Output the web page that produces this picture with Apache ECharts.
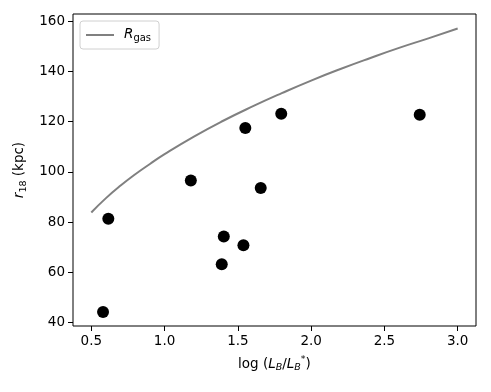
<!DOCTYPE html>
<html>
<head>
<meta charset="utf-8">
<script src="https://cdn.jsdelivr.net/npm/echarts@6/dist/echarts.min.js"></script>
<style>
  html, body { margin: 0; padding: 0; background: #fff; }
  #main { width: 491px; height: 392px; }
</style>
</head>
<body>
<div id="main"></div>
<script>
// galaxies: log(L_B/L_B*) vs r_18 (kpc)
var logL = [0.58, 0.616, 1.179, 1.390, 1.404, 1.538, 1.551, 1.656, 1.796, 2.741];
var r18  = [44.2, 81.3, 96.5, 63.2, 74.2, 70.7, 117.4, 93.5, 123.1, 122.7];

// R_gas curve
var gasX = [0.5, 0.6, 0.7, 0.8, 0.9, 1.0, 1.2, 1.4, 1.6, 1.8, 2.0, 2.2, 2.4, 2.6, 2.8, 3.0];
var gasY = [83.8, 89.5, 94.5, 99.0, 103.1, 107.0, 114.0, 120.3, 126.0, 131.3, 136.3, 140.9, 145.2, 149.3, 153.1, 157.0];

var xTicks = [0.5, 1.0, 1.5, 2.0, 2.5, 3.0];
var yTicks = [40, 60, 80, 100, 120, 140, 160];

var pts = logL.map(function (x, i) { return [x, r18[i]]; });
var gas = gasX.map(function (x, i) { return [x, gasY[i]]; });

var font = 'DejaVu Sans';
var myChart = echarts.init(document.getElementById('main'));

var option = {
    backgroundColor: '#fff',
    animation: false,
    grid: {
        left: 73, right: 15, top: 14, bottom: 66,
        show: true, borderColor: '#000', borderWidth: 1
    },
    legend: {
        data: ['gas'],
        left: 80, top: 21,
        padding: [6, 8, 6, 5],
        itemWidth: 28, itemHeight: 2,
        borderColor: '#d0d0d0', borderWidth: 1, borderRadius: 3,
        formatter: function () { return '{i|R}{s|gas}'; },
        textStyle: {
            padding: [0, 0, 0, 5],
            rich: {
                i: { fontFamily: font, fontStyle: 'italic', fontSize: 13.5, color: '#000', lineHeight: 16, verticalAlign: 'top' },
                s: { fontFamily: font, fontSize: 10, color: '#000', lineHeight: 16, verticalAlign: 'bottom' }
            }
        }
    },
    xAxis: {
        type: 'value',
        min: 0.375, max: 3.125,
        name: '{n|log (}{i|L}{s|B}{n|/}{i|L}{s|B}{u|*}{n|)}',
        nameLocation: 'middle',
        nameGap: 29,
        nameTextStyle: {
            rich: {
                n: { fontFamily: font, fontSize: 13.5, color: '#000', lineHeight: 18, verticalAlign: 'middle' },
                i: { fontFamily: font, fontStyle: 'italic', fontSize: 13.5, color: '#000', lineHeight: 18, verticalAlign: 'middle' },
                s: { fontFamily: font, fontStyle: 'italic', fontSize: 9.5, color: '#000', lineHeight: 14, verticalAlign: 'bottom' },
                u: { fontFamily: font, fontSize: 9.5, color: '#000', lineHeight: 18, verticalAlign: 'top' }
            }
        },
        splitLine: { show: false },
        axisLine: { show: false },
        axisTick: { show: true, length: 5, lineStyle: { color: '#000', width: 1 }, customValues: xTicks },
        axisLabel: {
            customValues: xTicks,
            fontFamily: font, fontSize: 13.5, color: '#000', margin: 8,
            formatter: function (v) { return v.toFixed(1); }
        }
    },
    yAxis: {
        type: 'value',
        min: 38.6, max: 162.8,
        name: '{i|r}{s|18}{n| (kpc)}',
        nameLocation: 'middle',
        nameGap: 39,
        nameRotate: 90,
        nameTextStyle: {
            rich: {
                n: { fontFamily: font, fontSize: 13.5, color: '#000', lineHeight: 18, verticalAlign: 'middle' },
                i: { fontFamily: font, fontStyle: 'italic', fontSize: 13.5, color: '#000', lineHeight: 18, verticalAlign: 'middle' },
                s: { fontFamily: font, fontSize: 9.5, color: '#000', lineHeight: 14, verticalAlign: 'bottom' }
            }
        },
        splitLine: { show: false },
        axisLine: { show: false },
        axisTick: { show: true, length: 5, lineStyle: { color: '#000', width: 1 }, customValues: yTicks },
        axisLabel: {
            customValues: yTicks,
            fontFamily: font, fontSize: 13.5, color: '#000', margin: 8
        }
    },
    series: [
        {
            name: 'gas',
            type: 'line',
            data: gas,
            smooth: true,
            showSymbol: false,
            symbol: 'none',
            lineStyle: { color: '#808080', width: 2 },
            itemStyle: { color: '#808080' },
            z: 2
        },
        {
            name: 'pts',
            type: 'scatter',
            data: pts,
            symbolSize: 12,
            itemStyle: { color: '#000', opacity: 1 },
            z: 3
        }
    ]
};

myChart.setOption(option);
</script>
</body>
</html>
